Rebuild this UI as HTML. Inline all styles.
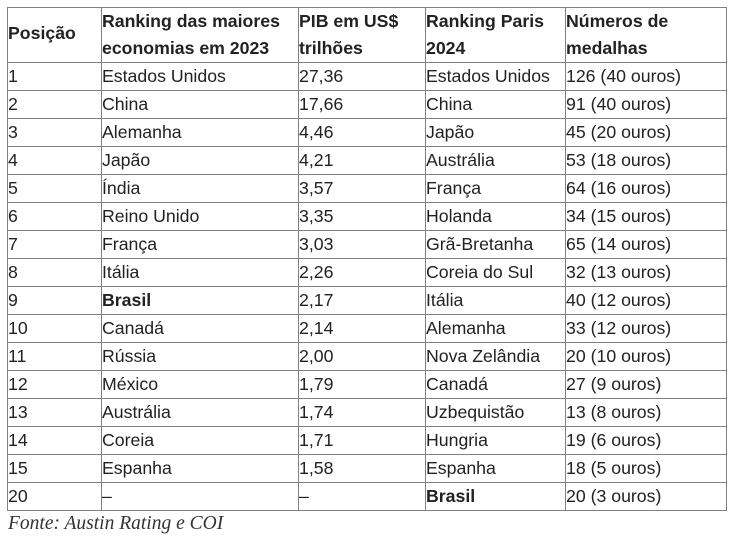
<!DOCTYPE html>
<html>
<head>
<meta charset="utf-8">
<style>
  html, body { margin:0; padding:0; background:#fff; }
  body { width:733px; height:540px; position:relative; overflow:hidden;
         font-family:"Liberation Sans", Arial, sans-serif; color:#222; }
  .h { position:absolute; height:1px; background:#808080; left:7px; width:720px; }
  .v { position:absolute; width:1px; background:#808080; top:7px; height:504px; }
  .c { position:absolute; font-size:17.7px; line-height:27px; white-space:nowrap; }
  .r { line-height:28px; }
  .b { font-weight:bold; }
  .foot { position:absolute; left:8px; top:513px; font-family:"Liberation Serif", "Times New Roman", serif;
          font-style:italic; font-size:19.5px; line-height:22px; color:#333; white-space:nowrap; }
</style>
</head>
<body>
<!-- horizontal lines -->
<div class="h" style="top:7px"></div>
<div class="h" style="top:62px"></div>
<div class="h" style="top:90px"></div>
<div class="h" style="top:118px"></div>
<div class="h" style="top:146px"></div>
<div class="h" style="top:174px"></div>
<div class="h" style="top:202px"></div>
<div class="h" style="top:230px"></div>
<div class="h" style="top:258px"></div>
<div class="h" style="top:286px"></div>
<div class="h" style="top:314px"></div>
<div class="h" style="top:342px"></div>
<div class="h" style="top:370px"></div>
<div class="h" style="top:398px"></div>
<div class="h" style="top:426px"></div>
<div class="h" style="top:454px"></div>
<div class="h" style="top:482px"></div>
<div class="h" style="top:510px"></div>
<!-- vertical lines -->
<div class="v" style="left:7px"></div>
<div class="v" style="left:101px"></div>
<div class="v" style="left:298px"></div>
<div class="v" style="left:425px"></div>
<div class="v" style="left:565px"></div>
<div class="v" style="left:726px"></div>

<!-- header -->
<div class="c b" style="left:8px;top:20px">Posição</div>
<div class="c b" style="left:102px;top:8px">Ranking das maiores<br>economias em 2023</div>
<div class="c b" style="left:299px;top:8px">PIB em US$<br>trilhões</div>
<div class="c b" style="left:426px;top:8px">Ranking Paris<br>2024</div>
<div class="c b" style="left:566px;top:8px">Números de<br>medalhas</div>

<!-- body columns -->
<div class="c r" style="left:8px;top:62px">1<br>2<br>3<br>4<br>5<br>6<br>7<br>8<br>9<br>10<br>11<br>12<br>13<br>14<br>15<br>20</div>
<div class="c r" style="left:102px;top:62px">Estados Unidos<br>China<br>Alemanha<br>Japão<br>Índia<br>Reino Unido<br>França<br>Itália<br><b>Brasil</b><br>Canadá<br>Rússia<br>México<br>Austrália<br>Coreia<br>Espanha<br>–</div>
<div class="c r" style="left:299px;top:62px">27,36<br>17,66<br>4,46<br>4,21<br>3,57<br>3,35<br>3,03<br>2,26<br>2,17<br>2,14<br>2,00<br>1,79<br>1,74<br>1,71<br>1,58<br>–</div>
<div class="c r" style="left:426px;top:62px">Estados Unidos<br>China<br>Japão<br>Austrália<br>França<br>Holanda<br>Grã-Bretanha<br>Coreia do Sul<br>Itália<br>Alemanha<br>Nova Zelândia<br>Canadá<br>Uzbequistão<br>Hungria<br>Espanha<br><b>Brasil</b></div>
<div class="c r" style="left:566px;top:62px">126 (40 ouros)<br>91 (40 ouros)<br>45 (20 ouros)<br>53 (18 ouros)<br>64 (16 ouros)<br>34 (15 ouros)<br>65 (14 ouros)<br>32 (13 ouros)<br>40 (12 ouros)<br>33 (12 ouros)<br>20 (10 ouros)<br>27 (9 ouros)<br>13 (8 ouros)<br>19 (6 ouros)<br>18 (5 ouros)<br>20 (3 ouros)</div>

<div class="foot">Fonte: Austin Rating e COI</div>
</body>
</html>
